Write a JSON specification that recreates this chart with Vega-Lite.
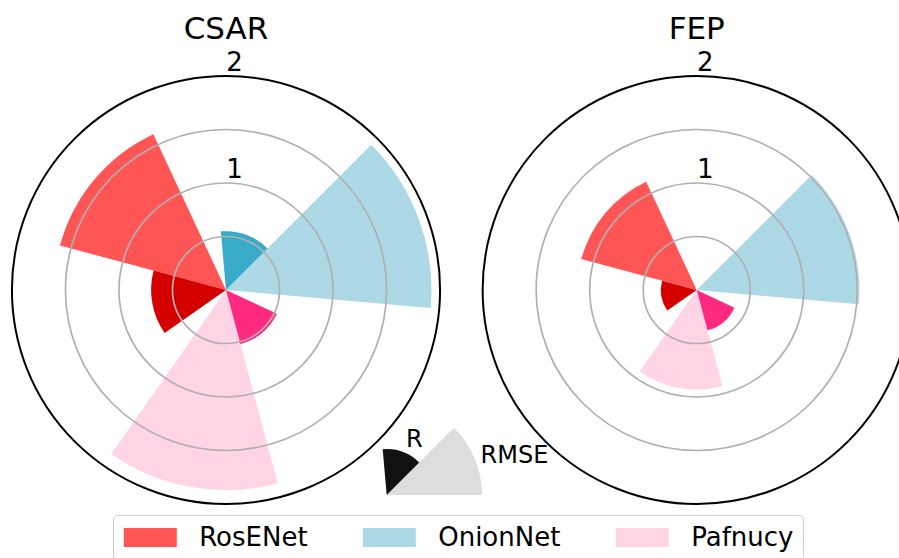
{
  "$schema": "https://vega.github.io/schema/vega-lite/v6.json",
  "width": 899,
  "height": 536,
  "autosize": {"type": "none"},
  "padding": {"top": 22, "left": 0, "right": 0, "bottom": 0},
  "background": "white",
  "config": {"view": {"stroke": null}, "font": "DejaVu Sans"},
  "datasets": {
    "scores": [
      {"panel": "CSAR", "model": "RosENet", "metric": "RMSE", "value": 1.606},
      {"panel": "CSAR", "model": "OnionNet", "metric": "RMSE", "value": 1.92},
      {"panel": "CSAR", "model": "Pafnucy", "metric": "RMSE", "value": 1.87},
      {"panel": "FEP", "model": "RosENet", "metric": "RMSE", "value": 1.117},
      {"panel": "FEP", "model": "OnionNet", "metric": "RMSE", "value": 1.52},
      {"panel": "FEP", "model": "Pafnucy", "metric": "RMSE", "value": 0.93},
      {"panel": "CSAR", "model": "RosENet", "metric": "R", "value": 0.70},
      {"panel": "CSAR", "model": "OnionNet", "metric": "R", "value": 0.55},
      {"panel": "CSAR", "model": "Pafnucy", "metric": "R", "value": 0.525},
      {"panel": "FEP", "model": "RosENet", "metric": "R", "value": 0.335},
      {"panel": "FEP", "model": "OnionNet", "metric": "R", "value": 0.0},
      {"panel": "FEP", "model": "Pafnucy", "metric": "R", "value": 0.39}
    ],
    "rings": [
      {"panel": "CSAR", "r": 0.5}, {"panel": "CSAR", "r": 1}, {"panel": "CSAR", "r": 1.5}, {"panel": "CSAR", "r": 2},
      {"panel": "FEP", "r": 0.5}, {"panel": "FEP", "r": 1}, {"panel": "FEP", "r": 1.5}, {"panel": "FEP", "r": 2}
    ],
    "panels": [{"panel": "CSAR"}, {"panel": "FEP"}],
    "key": [
      {"group": "key", "metric": "R", "value": 0.43},
      {"group": "key", "metric": "RMSE", "value": 0.89}
    ]
  },
  "layer": [
    {
      "layer": [
        {
          "data": {"name": "scores"},
          "transform": [{"filter": "datum.metric === 'RMSE'"}],
          "mark": {"type": "arc"},
          "encoding": {
            "x": {"field": "panel", "type": "nominal", "scale": {"type": "point", "domain": ["CSAR", "FEP"], "padding": 0.45496, "align": 0.52767}, "axis": null},
            "theta": {"field": "model", "type": "nominal", "scale": {"type": "band", "domain": ["OnionNet", "Pafnucy", "RosENet"], "range": [0.174533, 6.457718], "paddingInner": 0.583333, "paddingOuter": 0.291667}},
            "radius": {"field": "value", "type": "quantitative", "stack": null, "scale": {"type": "linear", "domain": [0, 2], "range": [0, 214]}},
            "color": {
              "field": "model", "type": "nominal",
              "scale": {"domain": ["RosENet", "OnionNet", "Pafnucy"], "range": ["#ff5555", "#add8e6", "#ffd5e5"]},
              "legend": {
                "orient": "none", "legendX": 113, "legendY": 493, "direction": "horizontal", "columns": 3,
                "title": null,
                "symbolType": "M-2,-0.717H2V0.717H-2Z", "symbolSize": 702.25, "symbolStrokeWidth": 0, "symbolOffset": 15, "symbolOpacity": 1,
                "labelFont": "DejaVu Sans", "labelFontSize": 26, "labelOffset": 35.4, "labelColor": "black",
                "columnPadding": 53, "padding": 8.8, "strokeColor": "#cccccc", "fillColor": "white", "cornerRadius": 4
              }
            }
          }
        },
        {
          "data": {"name": "scores"},
          "transform": [{"filter": "datum.metric === 'R'"}],
          "mark": {"type": "arc"},
          "encoding": {
            "x": {"field": "panel", "type": "nominal", "scale": {"type": "point", "domain": ["CSAR", "FEP"], "padding": 0.45496, "align": 0.52767}, "axis": null},
            "theta": {"field": "model", "type": "nominal", "scale": {"type": "band", "domain": ["OnionNet", "Pafnucy", "RosENet"], "range": [-0.698132, 5.585054], "paddingInner": 0.583333, "paddingOuter": 0.291667}},
            "radius": {"field": "value", "type": "quantitative", "stack": null, "scale": {"type": "linear", "domain": [0, 2], "range": [0, 214]}},
            "color": {
              "field": "model", "type": "nominal",
              "scale": {"domain": ["RosENet", "OnionNet", "Pafnucy"], "range": ["#d40000", "#37abc8", "#ff2a7f"]},
              "legend": null
            }
          }
        },
        {
          "data": {"name": "rings"},
          "transform": [{"filter": "datum.r < 2"}],
          "mark": {"type": "arc", "filled": false, "stroke": "#b0b0b0", "strokeWidth": 1.7, "theta": 0, "theta2": 6.2832},
          "encoding": {
            "x": {"field": "panel", "type": "nominal", "scale": {"type": "point", "domain": ["CSAR", "FEP"], "padding": 0.45496, "align": 0.52767}, "axis": null},
            "radius": {"field": "r", "type": "quantitative", "stack": null, "scale": {"type": "linear", "domain": [0, 2], "range": [0, 214]}}
          }
        },
        {
          "data": {"name": "rings"},
          "transform": [{"filter": "datum.r === 2"}],
          "mark": {"type": "arc", "filled": false, "stroke": "#000000", "strokeWidth": 2, "theta": 0, "theta2": 6.2832},
          "encoding": {
            "x": {"field": "panel", "type": "nominal", "scale": {"type": "point", "domain": ["CSAR", "FEP"], "padding": 0.45496, "align": 0.52767}, "axis": null},
            "radius": {"field": "r", "type": "quantitative", "stack": null, "scale": {"type": "linear", "domain": [0, 2], "range": [0, 214]}}
          }
        },
        {
          "data": {"name": "rings"},
          "transform": [{"filter": "datum.r === 1 || datum.r === 2"}],
          "mark": {"type": "text", "fontSize": 26, "font": "DejaVu Sans", "align": "center", "baseline": "alphabetic", "dx": 8.5, "dy": -5.5, "theta": 0, "color": "black"},
          "encoding": {
            "x": {"field": "panel", "type": "nominal", "scale": {"type": "point", "domain": ["CSAR", "FEP"], "padding": 0.45496, "align": 0.52767}, "axis": null},
            "radius": {"field": "r", "type": "quantitative", "stack": null, "scale": {"type": "linear", "domain": [0, 2], "range": [0, 214]}},
            "text": {"field": "r", "type": "quantitative"}
          }
        },
        {
          "data": {"name": "panels"},
          "mark": {"type": "text", "fontSize": 31, "font": "DejaVu Sans", "align": "center", "baseline": "alphabetic", "theta": 0, "color": "black"},
          "encoding": {
            "x": {"field": "panel", "type": "nominal", "scale": {"type": "point", "domain": ["CSAR", "FEP"], "padding": 0.45496, "align": 0.52767}, "axis": null},
            "radius": {"datum": 2.343, "type": "quantitative", "scale": {"type": "linear", "domain": [0, 2], "range": [0, 214]}},
            "text": {"field": "panel", "type": "nominal"}
          }
        }
      ],
      "resolve": {"scale": {"theta": "independent", "color": "independent"}}
    },
    {
      "data": {"name": "key"},
      "layer": [
        {
          "transform": [{"filter": "datum.metric === 'RMSE'"}],
          "mark": {"type": "arc", "theta": 0.785398, "theta2": 1.570796, "color": "#dddddd"},
          "encoding": {
            "x": {"field": "group", "type": "nominal", "scale": {"type": "point", "padding": 0.5, "align": 0.43014}, "axis": null},
            "y": {"field": "group", "type": "nominal", "scale": {"type": "point", "padding": 0.5, "align": 0.88246}, "axis": null},
            "radius": {"field": "value", "type": "quantitative", "stack": null, "scale": {"type": "linear", "domain": [0, 2], "range": [0, 214]}}
          }
        },
        {
          "transform": [{"filter": "datum.metric === 'R'"}],
          "mark": {"type": "arc", "theta": -0.087266, "theta2": 0.785398, "color": "#111111"},
          "encoding": {
            "x": {"field": "group", "type": "nominal", "scale": {"type": "point", "padding": 0.5, "align": 0.43014}, "axis": null},
            "y": {"field": "group", "type": "nominal", "scale": {"type": "point", "padding": 0.5, "align": 0.88246}, "axis": null},
            "radius": {"field": "value", "type": "quantitative", "stack": null, "scale": {"type": "linear", "domain": [0, 2], "range": [0, 214]}}
          }
        },
        {
          "transform": [{"filter": "datum.metric === 'R'"}],
          "mark": {"type": "text", "fontSize": 24, "font": "DejaVu Sans", "align": "center", "baseline": "alphabetic", "dx": 27.6, "dy": -48.3, "color": "black"},
          "encoding": {
            "x": {"field": "group", "type": "nominal", "scale": {"type": "point", "padding": 0.5, "align": 0.43014}, "axis": null},
            "y": {"field": "group", "type": "nominal", "scale": {"type": "point", "padding": 0.5, "align": 0.88246}, "axis": null},
            "text": {"field": "metric", "type": "nominal"}
          }
        },
        {
          "transform": [{"filter": "datum.metric === 'RMSE'"}],
          "mark": {"type": "text", "fontSize": 24, "font": "DejaVu Sans", "align": "center", "baseline": "alphabetic", "dx": 127.8, "dy": -31.7, "color": "black"},
          "encoding": {
            "x": {"field": "group", "type": "nominal", "scale": {"type": "point", "padding": 0.5, "align": 0.43014}, "axis": null},
            "y": {"field": "group", "type": "nominal", "scale": {"type": "point", "padding": 0.5, "align": 0.88246}, "axis": null},
            "text": {"field": "metric", "type": "nominal"}
          }
        }
      ]
    }
  ],
  "resolve": {"scale": {"x": "independent", "y": "independent", "radius": "independent"}}
}
